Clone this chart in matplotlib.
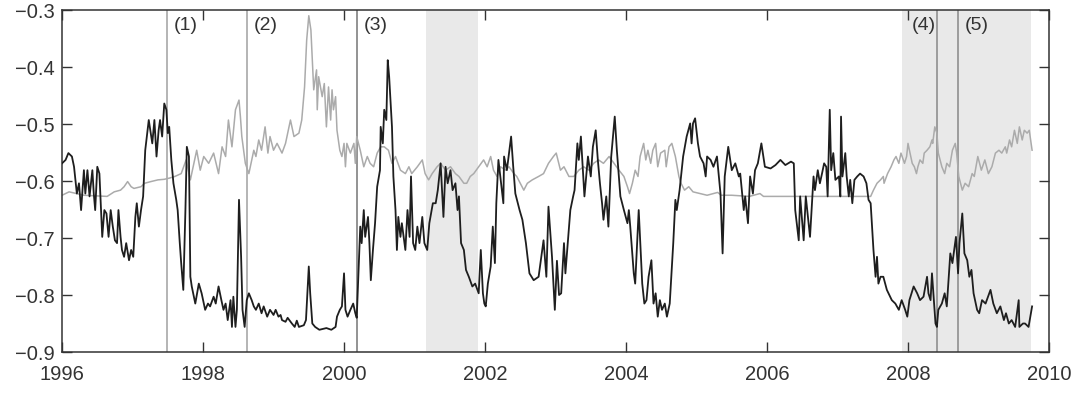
import matplotlib
matplotlib.use('Agg')
import matplotlib.pyplot as plt

plt.rcParams['font.family'] = ['Liberation Sans', 'DejaVu Sans']

# Dark series (year, value)
dark_x = [1996.00, 1996.05, 1996.09, 1996.14, 1996.17, 1996.21, 1996.24, 1996.27, 1996.31, 1996.33,
          1996.36, 1996.39, 1996.43, 1996.45, 1996.47, 1996.50, 1996.53, 1996.57, 1996.60, 1996.63,
          1996.66, 1996.69, 1996.72, 1996.75, 1996.78, 1996.80, 1996.83, 1996.85, 1996.88, 1996.91,
          1996.95, 1996.98, 1997.01, 1997.04, 1997.06, 1997.09, 1997.12, 1997.15, 1997.18, 1997.23,
          1997.28, 1997.31, 1997.34, 1997.37, 1997.39, 1997.42, 1997.45, 1997.48, 1997.50, 1997.52,
          1997.55, 1997.58, 1997.62, 1997.64, 1997.67, 1997.69, 1997.72, 1997.75, 1997.77, 1997.80,
          1997.82, 1997.84, 1997.89, 1997.94, 1997.98, 1998.03, 1998.07, 1998.10, 1998.15, 1998.18,
          1998.22, 1998.26, 1998.29, 1998.32, 1998.35, 1998.39, 1998.41, 1998.43, 1998.46, 1998.48,
          1998.51, 1998.54, 1998.56, 1998.59, 1998.62, 1998.65, 1998.69, 1998.72, 1998.75, 1998.79,
          1998.83, 1998.86, 1998.91, 1998.95, 1999.00, 1999.03, 1999.07, 1999.10, 1999.12, 1999.17,
          1999.20, 1999.26, 1999.30, 1999.33, 1999.36, 1999.43, 1999.46, 1999.50, 1999.52, 1999.55,
          1999.59, 1999.65, 1999.75, 1999.82, 1999.88, 1999.90, 1999.94, 1999.97, 2000.00, 2000.02,
          2000.05, 2000.09, 2000.13, 2000.16, 2000.18, 2000.21, 2000.23, 2000.25, 2000.28, 2000.30,
          2000.34, 2000.36, 2000.38, 2000.41, 2000.44, 2000.47, 2000.51, 2000.52, 2000.55, 2000.57,
          2000.60, 2000.62, 2000.64, 2000.68, 2000.70, 2000.73, 2000.75, 2000.77, 2000.80, 2000.82,
          2000.87, 2000.90, 2000.93, 2000.95, 2000.98, 2001.01, 2001.04, 2001.07, 2001.11, 2001.14,
          2001.18, 2001.21, 2001.26, 2001.30, 2001.33, 2001.37, 2001.41, 2001.44, 2001.47, 2001.51,
          2001.54, 2001.58, 2001.61, 2001.63, 2001.66, 2001.70, 2001.73, 2001.77, 2001.82, 2001.86,
          2001.91, 2001.94, 2001.97, 2001.99, 2002.01, 2002.04, 2002.08, 2002.11, 2002.14, 2002.16,
          2002.19, 2002.26, 2002.27, 2002.31, 2002.34, 2002.37, 2002.40, 2002.43, 2002.49, 2002.53,
          2002.58, 2002.63, 2002.69, 2002.76, 2002.83, 2002.87, 2002.90, 2002.95, 2002.99, 2003.02,
          2003.05, 2003.08, 2003.12, 2003.14, 2003.21, 2003.25, 2003.27, 2003.31, 2003.33, 2003.36,
          2003.41, 2003.46, 2003.50, 2003.53, 2003.57, 2003.60, 2003.63, 2003.66, 2003.68, 2003.72,
          2003.75, 2003.79, 2003.84, 2003.87, 2003.92, 2003.97, 2004.02, 2004.04, 2004.06, 2004.11,
          2004.13, 2004.18, 2004.23, 2004.26, 2004.29, 2004.32, 2004.36, 2004.39, 2004.42, 2004.45,
          2004.48, 2004.51, 2004.55, 2004.58, 2004.62, 2004.67, 2004.70, 2004.72, 2004.76, 2004.81,
          2004.86, 2004.91, 2004.93, 2004.95, 2004.98, 2005.02, 2005.05, 2005.10, 2005.13, 2005.15,
          2005.20, 2005.24, 2005.29, 2005.34, 2005.37, 2005.40, 2005.45, 2005.50, 2005.55, 2005.60,
          2005.62, 2005.67, 2005.69, 2005.73, 2005.76, 2005.80, 2005.83, 2005.87, 2005.92, 2005.97,
          2006.05, 2006.12, 2006.19, 2006.26, 2006.34, 2006.38, 2006.40, 2006.45, 2006.47, 2006.52,
          2006.55, 2006.61, 2006.66, 2006.68, 2006.72, 2006.75, 2006.78, 2006.81, 2006.84, 2006.86,
          2006.89, 2006.91, 2006.94, 2006.97, 2007.02, 2007.04, 2007.05, 2007.07, 2007.11, 2007.13,
          2007.16, 2007.18, 2007.21, 2007.24, 2007.28, 2007.32, 2007.37, 2007.41, 2007.44, 2007.47,
          2007.49, 2007.51, 2007.54, 2007.56, 2007.58, 2007.61, 2007.65, 2007.70, 2007.77, 2007.82,
          2007.87, 2007.91, 2007.96, 2007.99, 2008.02, 2008.08, 2008.13, 2008.17, 2008.22, 2008.27,
          2008.29, 2008.32, 2008.34, 2008.39, 2008.41, 2008.43, 2008.48, 2008.52, 2008.55, 2008.60,
          2008.63, 2008.68, 2008.71, 2008.73, 2008.77, 2008.80, 2008.84, 2008.87, 2008.90, 2008.93,
          2008.98, 2009.01, 2009.05, 2009.10, 2009.17, 2009.21, 2009.26, 2009.31, 2009.36, 2009.39,
          2009.43, 2009.47, 2009.52, 2009.57, 2009.58, 2009.63, 2009.66, 2009.71, 2009.76]
dark_y = [-0.569, -0.563, -0.551, -0.557, -0.575, -0.622, -0.604, -0.651, -0.581, -0.622,
          -0.581, -0.627, -0.581, -0.622, -0.651, -0.575, -0.587, -0.698, -0.651, -0.657,
          -0.698, -0.651, -0.680, -0.704, -0.709, -0.651, -0.698, -0.721, -0.733, -0.709,
          -0.739, -0.721, -0.733, -0.663, -0.639, -0.680, -0.651, -0.627, -0.546, -0.493,
          -0.534, -0.493, -0.557, -0.511, -0.493, -0.522, -0.464, -0.475, -0.516, -0.505,
          -0.563, -0.604, -0.633, -0.651, -0.709, -0.744, -0.791, -0.651, -0.540, -0.557,
          -0.768, -0.785, -0.815, -0.780, -0.797, -0.826, -0.815, -0.820, -0.803, -0.815,
          -0.785, -0.809, -0.826, -0.815, -0.844, -0.809, -0.856, -0.803, -0.856, -0.826,
          -0.633, -0.733, -0.826, -0.856, -0.809, -0.797, -0.809, -0.820, -0.826, -0.815,
          -0.832, -0.820, -0.838, -0.826, -0.835, -0.826, -0.838, -0.835, -0.844, -0.847,
          -0.840, -0.850, -0.856, -0.845, -0.856, -0.853, -0.844, -0.750, -0.797, -0.850,
          -0.856, -0.861, -0.858, -0.861, -0.856, -0.838, -0.826, -0.820, -0.762, -0.826,
          -0.838, -0.826, -0.815, -0.832, -0.840, -0.744, -0.680, -0.709, -0.651, -0.698,
          -0.663, -0.709, -0.774, -0.721, -0.674, -0.610, -0.581, -0.505, -0.534, -0.475,
          -0.493, -0.388, -0.417, -0.505, -0.592, -0.651, -0.721, -0.663, -0.698, -0.674,
          -0.721, -0.651, -0.698, -0.592, -0.709, -0.721, -0.680, -0.709, -0.663, -0.709,
          -0.721, -0.674, -0.639, -0.639, -0.616, -0.569, -0.663, -0.575, -0.604, -0.581,
          -0.616, -0.604, -0.651, -0.627, -0.709, -0.721, -0.756, -0.768, -0.785, -0.780,
          -0.797, -0.721, -0.797, -0.815, -0.820, -0.780, -0.750, -0.680, -0.744, -0.639,
          -0.563, -0.639, -0.557, -0.581, -0.551, -0.522, -0.575, -0.622, -0.651, -0.668,
          -0.709, -0.762, -0.774, -0.768, -0.704, -0.768, -0.645, -0.733, -0.826, -0.740,
          -0.800, -0.797, -0.709, -0.762, -0.651, -0.627, -0.616, -0.534, -0.563, -0.522,
          -0.627, -0.557, -0.592, -0.540, -0.511, -0.563, -0.604, -0.639, -0.668, -0.627,
          -0.680, -0.557, -0.487, -0.546, -0.627, -0.651, -0.674, -0.651, -0.680, -0.762,
          -0.780, -0.651, -0.780, -0.815, -0.809, -0.768, -0.739, -0.815, -0.797, -0.838,
          -0.809, -0.826, -0.815, -0.838, -0.815, -0.709, -0.633, -0.651, -0.616, -0.557,
          -0.522, -0.499, -0.534, -0.499, -0.490, -0.534, -0.557, -0.569, -0.592, -0.557,
          -0.563, -0.575, -0.557, -0.622, -0.727, -0.592, -0.540, -0.581, -0.569, -0.592,
          -0.587, -0.651, -0.627, -0.674, -0.592, -0.622, -0.581, -0.569, -0.534, -0.575,
          -0.578, -0.572, -0.563, -0.572, -0.566, -0.569, -0.651, -0.704, -0.627, -0.704,
          -0.627, -0.698, -0.592, -0.616, -0.581, -0.604, -0.587, -0.569, -0.575, -0.627,
          -0.475, -0.581, -0.551, -0.598, -0.592, -0.627, -0.487, -0.592, -0.551, -0.592,
          -0.627, -0.598, -0.639, -0.598, -0.592, -0.587, -0.592, -0.604, -0.633, -0.639,
          -0.680, -0.721, -0.768, -0.733, -0.780, -0.768, -0.768, -0.791, -0.809, -0.815,
          -0.826, -0.809, -0.826, -0.838, -0.809, -0.785, -0.797, -0.809, -0.803, -0.768,
          -0.797, -0.809, -0.762, -0.850, -0.856, -0.826, -0.815, -0.797, -0.820, -0.727,
          -0.744, -0.698, -0.762, -0.709, -0.657, -0.727, -0.739, -0.768, -0.756, -0.797,
          -0.826, -0.832, -0.809, -0.815, -0.791, -0.815, -0.832, -0.820, -0.844, -0.832,
          -0.850, -0.844, -0.856, -0.809, -0.856, -0.850, -0.850, -0.856, -0.820]

# Light grey series
grey_x = [1996.00, 1996.10, 1996.31, 1996.64, 1996.74, 1996.83, 1996.88, 1996.93, 1996.98, 1997.02,
          1997.12, 1997.17, 1997.26, 1997.36, 1997.45, 1997.52, 1997.60, 1997.69, 1997.76, 1997.82,
          1997.91, 1997.96, 1998.01, 1998.08, 1998.15, 1998.22, 1998.27, 1998.32, 1998.36, 1998.41,
          1998.46, 1998.51, 1998.53, 1998.55, 1998.60, 1998.65, 1998.72, 1998.75, 1998.79, 1998.83,
          1998.88, 1998.92, 1998.95, 1999.00, 1999.05, 1999.12, 1999.17, 1999.24, 1999.29, 1999.36,
          1999.40, 1999.44, 1999.47, 1999.50, 1999.53, 1999.57, 1999.61, 1999.62, 1999.64, 1999.69,
          1999.72, 1999.75, 1999.78, 1999.81, 1999.83, 1999.85, 1999.88, 1999.90, 1999.94, 1999.97,
          2000.00, 2000.02, 2000.04, 2000.09, 2000.14, 2000.16, 2000.18, 2000.23, 2000.28, 2000.33,
          2000.37, 2000.42, 2000.47, 2000.52, 2000.57, 2000.63, 2000.68, 2000.73, 2000.80, 2000.87,
          2000.92, 2000.96, 2001.04, 2001.11, 2001.15, 2001.20, 2001.25, 2001.32, 2001.37, 2001.44,
          2001.51, 2001.58, 2001.63, 2001.70, 2001.74, 2001.79, 2001.84, 2001.91, 2001.98, 2002.03,
          2002.08, 2002.12, 2002.17, 2002.22, 2002.29, 2002.34, 2002.41, 2002.45, 2002.50, 2002.55,
          2002.60, 2002.67, 2002.76, 2002.83, 2002.90, 2002.97, 2003.01, 2003.07, 2003.12, 2003.19,
          2003.26, 2003.33, 2003.40, 2003.47, 2003.54, 2003.61, 2003.68, 2003.76, 2003.83, 2003.90,
          2003.97, 2004.02, 2004.05, 2004.09, 2004.13, 2004.17, 2004.20, 2004.25, 2004.28, 2004.31,
          2004.35, 2004.38, 2004.42, 2004.45, 2004.49, 2004.55, 2004.57, 2004.61, 2004.65, 2004.70,
          2004.75, 2004.78, 2004.83, 2004.89, 2004.95, 2005.05, 2005.15, 2005.30, 2005.35, 2005.50,
          2005.75, 2005.90, 2005.95, 2006.20, 2006.50, 2006.80, 2007.00, 2007.20, 2007.47, 2007.51,
          2007.56, 2007.61, 2007.65, 2007.66, 2007.71, 2007.76, 2007.80, 2007.83, 2007.87, 2007.90,
          2007.95, 2007.98, 2008.00, 2008.02, 2008.06, 2008.09, 2008.12, 2008.14, 2008.17, 2008.21,
          2008.23, 2008.27, 2008.31, 2008.34, 2008.35, 2008.38, 2008.41, 2008.43, 2008.48, 2008.52,
          2008.55, 2008.59, 2008.63, 2008.67, 2008.69, 2008.72, 2008.77, 2008.81, 2008.86, 2008.91,
          2008.94, 2008.99, 2009.04, 2009.09, 2009.14, 2009.19, 2009.24, 2009.29, 2009.33, 2009.38,
          2009.40, 2009.44, 2009.47, 2009.51, 2009.55, 2009.58, 2009.62, 2009.65, 2009.69, 2009.72,
          2009.76]
grey_y = [-0.625, -0.619, -0.625, -0.627, -0.619, -0.616, -0.610, -0.601, -0.610, -0.613,
          -0.610, -0.604, -0.601, -0.598, -0.597, -0.595, -0.592, -0.587, -0.563, -0.598,
          -0.546, -0.581, -0.557, -0.569, -0.551, -0.587, -0.540, -0.557, -0.493, -0.540,
          -0.475, -0.458, -0.487, -0.522, -0.569, -0.587, -0.546, -0.557, -0.528, -0.546,
          -0.505, -0.551, -0.522, -0.546, -0.534, -0.551, -0.534, -0.493, -0.522, -0.516,
          -0.493, -0.435, -0.353, -0.310, -0.335, -0.440, -0.405, -0.475, -0.417, -0.452,
          -0.429, -0.505, -0.435, -0.493, -0.440, -0.475, -0.452, -0.511, -0.546, -0.557,
          -0.534, -0.575, -0.534, -0.551, -0.534, -0.569, -0.522, -0.546, -0.575, -0.557,
          -0.569, -0.575, -0.551, -0.540, -0.540, -0.546, -0.569, -0.557, -0.581, -0.587,
          -0.575, -0.587, -0.575, -0.563, -0.587, -0.598, -0.587, -0.575, -0.569, -0.581,
          -0.575, -0.587, -0.592, -0.604, -0.604, -0.592, -0.587, -0.575, -0.563, -0.575,
          -0.557, -0.581, -0.592, -0.575, -0.581, -0.575, -0.587, -0.592, -0.604, -0.616,
          -0.604, -0.598, -0.592, -0.587, -0.569, -0.557, -0.551, -0.581, -0.575, -0.592,
          -0.592, -0.581, -0.575, -0.581, -0.569, -0.563, -0.569, -0.557, -0.569, -0.581,
          -0.592, -0.610, -0.622, -0.604, -0.581, -0.592, -0.557, -0.534, -0.563, -0.546,
          -0.569, -0.546, -0.534, -0.575, -0.551, -0.546, -0.575, -0.540, -0.534, -0.557,
          -0.592, -0.604, -0.616, -0.610, -0.619, -0.622, -0.625, -0.620, -0.625, -0.625,
          -0.627, -0.622, -0.627, -0.627, -0.627, -0.627, -0.627, -0.627, -0.627, -0.616,
          -0.604, -0.598, -0.592, -0.604, -0.587, -0.575, -0.563, -0.557, -0.569, -0.551,
          -0.569, -0.557, -0.534, -0.546, -0.569, -0.575, -0.587, -0.575, -0.563, -0.569,
          -0.551, -0.546, -0.540, -0.528, -0.534, -0.505, -0.516, -0.551, -0.575, -0.587,
          -0.569, -0.575, -0.546, -0.534, -0.551, -0.592, -0.616, -0.604, -0.610, -0.587,
          -0.592, -0.557, -0.581, -0.563, -0.587, -0.575, -0.551, -0.546, -0.551, -0.540,
          -0.551, -0.528, -0.540, -0.511, -0.534, -0.505, -0.528, -0.511, -0.516, -0.511,
          -0.546]

# Shaded periods and marked events
shaded = [(2001.16, 2001.90), (2007.92, 2009.75)]
event_x = [1997.49, 1998.62, 2000.18, 2008.41, 2008.71]
event_labels = ['(1)', '(2)', '(3)', '(4)', '(5)']
event_colors = ['#a8a8a8', '#a8a8a8', '#808080', '#909090', '#909090']

x_ticks = [1996, 1998, 2000, 2002, 2004, 2006, 2008, 2010]
y_ticks = [-0.9, -0.8, -0.7, -0.6, -0.5, -0.4, -0.3]

fig = plt.figure(figsize=(10.81, 3.96), dpi=100)
ax = fig.add_axes([0.0574, 0.1111, 0.9130, 0.8636])

for start, end in shaded:
    ax.axvspan(start, end, color='#e9e9e9', lw=0, zorder=0)

for xe, lab, col in zip(event_x, event_labels, event_colors):
    ax.axvline(xe, color=col, lw=1.2, zorder=1)
    if lab == '(4)':
        ax.text(xe - 0.02, -0.328, lab, ha='right', va='center', fontsize=14, color='#333333')
    else:
        ax.text(xe + 0.1, -0.328, lab, ha='left', va='center', fontsize=14, color='#333333')

# The two series
ax.plot(grey_x, grey_y, color='#ababab', lw=1.1, zorder=2)
ax.plot(dark_x, dark_y, color='#1e1e1e', lw=1.3, zorder=3)

ax.set_xlim(1996, 2010)
ax.set_ylim(-0.9, -0.3)
ax.set_xticks(x_ticks)
ax.set_yticks(y_ticks)
ax.set_yticklabels(['\u22120.9', '\u22120.8', '\u22120.7', '\u22120.6', '\u22120.5', '\u22120.4', '\u22120.3'])
ax.tick_params(direction='in', length=7, width=1, top=True, right=True,
               labelsize=14.5, colors='#333333')
ax.tick_params(axis='x', pad=9)
ax.tick_params(axis='y', pad=5)
for sp in ax.spines.values():
    sp.set_linewidth(1.1)
    sp.set_color('#333333')

fig.savefig('out.png', dpi=100)
